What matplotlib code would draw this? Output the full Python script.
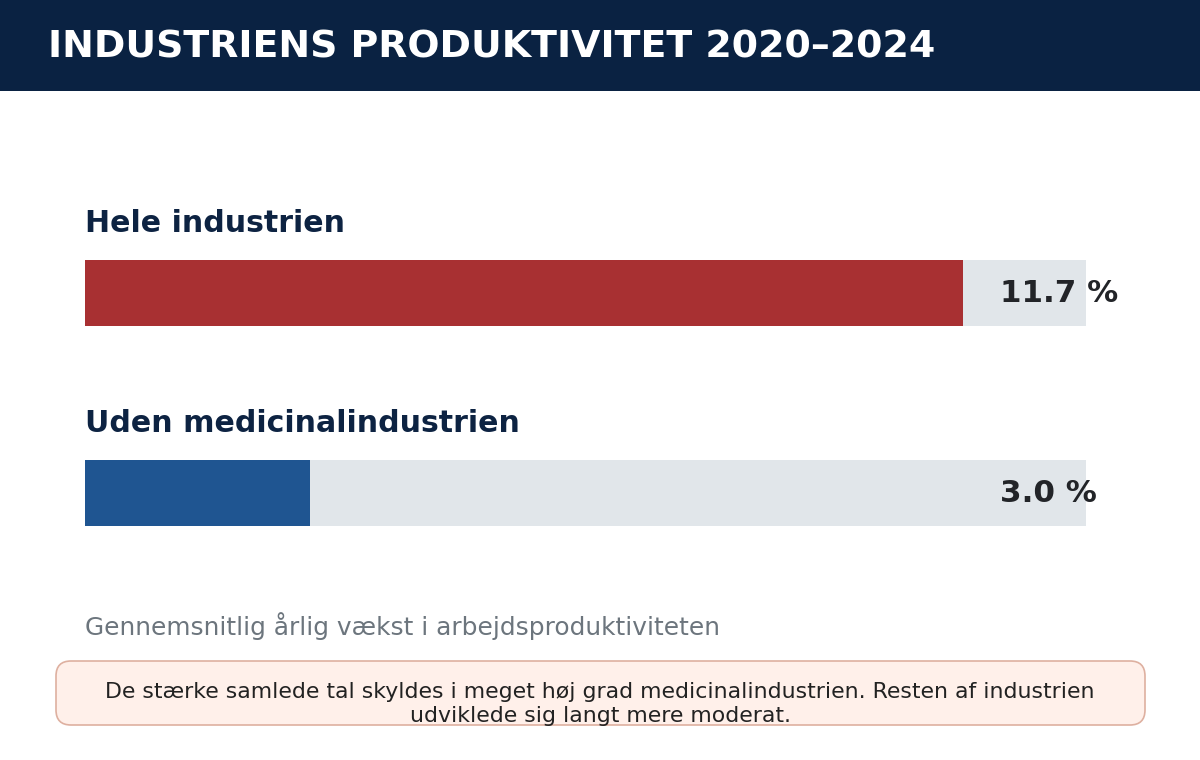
from matplotlib import pyplot as plt
from matplotlib import patches as ptch

plt.rcParams["font.family"] = ["DejaVu Sans"]

title = "INDUSTRIENS PRODUKTIVITET 2020–2024"
categories = ["Hele industrien", "Uden medicinalindustrien"]
values = [11.7, 3.0]
value_labels = ["11.7 %", "3.0 %"]
bar_colors = ["#a83032", "#1f5591"]
scale_max = 13.34
subtitle = "Gennemsnitlig årlig vækst i arbejdsproduktiviteten"
note = ("De stærke samlede tal skyldes i meget høj grad medicinalindustrien. Resten af industrien\n"
        "udviklede sig langt mere moderat.")

W, H = 1200, 760


def fx(x):
    return x / W


def fy(y):
    return 1 - y / H


fig = plt.figure(figsize=(12, 7.6), dpi=100)
fig.patch.set_facecolor("white")

# header band
fig.patches.append(ptch.Rectangle((0, fy(91)), 1, 91 / H, transform=fig.transFigure,
                                  facecolor="#0a2242", edgecolor="none", zorder=0))
fig.text(fx(48), fy(47), title, color="white", fontsize=27.3, fontweight="bold",
         va="center", ha="left")

# bars
ax = fig.add_axes([fx(85), fy(526), 1001 / W, 266 / H])
ax.set_xlim(0, scale_max)
ax.set_ylim(1.165, -0.165)
ax.axis("off")
pos = list(range(len(categories)))
ax.barh(pos, [scale_max] * len(pos), height=0.33, color="#e1e6ea", zorder=1)
ax.barh(pos, values, height=0.33, color=bar_colors, zorder=2)
for i, (cat, lab) in enumerate(zip(categories, value_labels)):
    ax.text(0, i - 0.345, cat, color="#0d2342", fontsize=21.6, fontweight="bold",
            va="center", ha="left", transform=ax.get_yaxis_transform(which="grid"),
            clip_on=False)
    ax.text(0.914, i, lab, color="#222428", fontsize=22.3, fontweight="bold",
            va="center", ha="left", transform=ax.get_yaxis_transform(which="grid"),
            clip_on=False)

fig.text(fx(85), fy(626), subtitle, color="#6c757d", fontsize=17.9, va="center", ha="left")

# note box
box = ptch.FancyBboxPatch((fx(56), fy(725)), (1145 - 56) / W, (725 - 661) / H,
                          boxstyle="round,pad=0,rounding_size=0.0125",
                          transform=fig.transFigure, facecolor="#fff0ea",
                          edgecolor="#deb0a0", linewidth=1.2, mutation_aspect=W / H)
fig.patches.append(box)
fig.text(0.5, fy(704), note, color="#222222", fontsize=15.8, va="center", ha="center",
         linespacing=1.25)

fig.savefig("out.png", dpi=100)
